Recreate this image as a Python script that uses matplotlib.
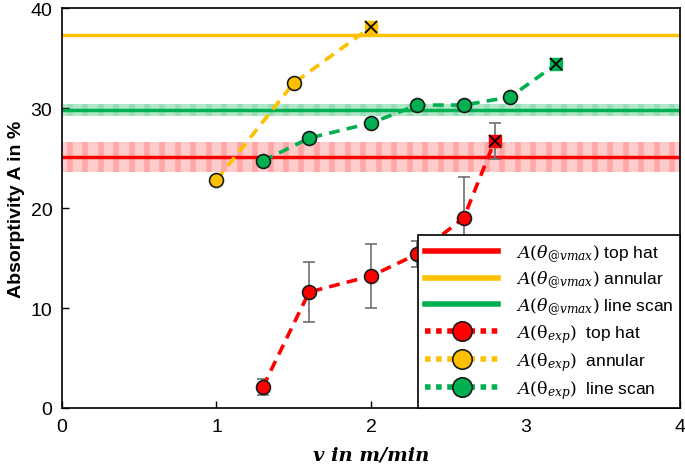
import numpy as np
import matplotlib.pyplot as plt
from matplotlib.lines import Line2D

plt.rcParams['font.family'] = ['Liberation Sans', 'DejaVu Sans']
plt.rcParams['mathtext.fontset'] = 'dejavuserif'

# experimental absorptivity, top hat
v_top = [1.3, 1.6, 2.0, 2.3, 2.6, 2.8]
a_top = [2.1, 11.6, 13.2, 15.4, 19.0, 26.7]
err_top = [0.8, 3.0, 3.2, 1.3, 4.1, 1.8]

# annular
v_ann = [1.0, 1.5, 2.0]
a_ann = [22.8, 32.5, 38.1]

# line scan
v_line = [1.3, 1.6, 2.0, 2.3, 2.6, 2.9, 3.2]
a_line = [24.7, 27.0, 28.5, 30.3, 30.3, 31.1, 34.4]

# A(theta @ vmax) levels and uncertainty
vmax_top, vmax_top_err = 25.1, 1.5
vmax_ann = 37.3
vmax_line, vmax_line_err = 29.8, 0.6

red = '#FF0000'
orange = '#FFC000'
green = '#00B050'

fig = plt.figure(figsize=(6.85, 4.77), dpi=100)
ax = fig.add_axes([0.0905, 0.1426, 0.9022, 0.8384])

xs = np.linspace(0, 4, 200)
stripes = np.arange(0.05, 4.0, 0.1)

# bands with stripes
ax.fill_between(xs, vmax_top - vmax_top_err, vmax_top + vmax_top_err,
                color=red, alpha=0.2, lw=0)
ax.vlines(stripes, vmax_top - vmax_top_err, vmax_top + vmax_top_err,
          color=red, alpha=0.18, lw=4)
ax.fill_between(xs, vmax_line - vmax_line_err, vmax_line + vmax_line_err,
                color=green, alpha=0.3, lw=0)
ax.vlines(stripes, vmax_line - vmax_line_err, vmax_line + vmax_line_err,
          color=green, alpha=0.15, lw=4)

ax.axhline(vmax_top, color=red, lw=2.5)
ax.axhline(vmax_ann, color=orange, lw=2.5)
ax.axhline(vmax_line, color=green, lw=2.5)

# error bars
ax.errorbar(v_top, a_top, yerr=err_top, fmt='none', ecolor='#707070',
            elinewidth=1.2, capsize=4, capthick=1.2, zorder=3)

def series(v, a, col):
    ax.plot(v, a, ls=(0, (3, 2)), color=col, lw=2.6, zorder=4)
    ax.plot(v[:-1], a[:-1], 'o', ms=10, mfc=col, mec='#1a1a1a', mew=1.2, zorder=5)
    ax.plot(v[-1:], a[-1:], 's', ms=9, mfc=col, mec=col, zorder=5)
    ax.plot(v[-1:], a[-1:], 'x', ms=9, mec='black', mew=1.3, zorder=6)

series(v_top, a_top, red)
series(v_ann, a_ann, orange)
series(v_line, a_line, green)

ax.set_xlim(0, 4)
ax.set_ylim(0, 40)
ax.set_xticks([0, 1, 2, 3, 4])
ax.set_yticks([0, 10, 20, 30, 40])
ax.tick_params(direction='in', labelsize=14, length=5, width=1, pad=7)
for s in ax.spines.values():
    s.set_linewidth(1.2)

ax.set_ylabel('Absorptivity A in %', fontsize=14, fontweight='bold')
ax.set_xlabel('v in m/min', fontsize=14, fontweight='bold', fontstyle='italic',
              family='DejaVu Serif', labelpad=8)

handles = [
    Line2D([], [], color=red, lw=4),
    Line2D([], [], color=orange, lw=4),
    Line2D([], [], color=green, lw=4),
    Line2D([], [], color=red, lw=4, ls=(0, (1, 1)), marker='o', ms=14,
           mfc=red, mec='#1a1a1a', mew=1.2),
    Line2D([], [], color=orange, lw=4, ls=(0, (1, 1)), marker='o', ms=14,
           mfc=orange, mec='#1a1a1a', mew=1.2),
    Line2D([], [], color=green, lw=4, ls=(0, (1, 1)), marker='o', ms=14,
           mfc=green, mec='#1a1a1a', mew=1.2),
]
labels = [
    r'$A(\theta_{@vmax})$ top hat',
    r'$A(\theta_{@vmax})$ annular',
    r'$A(\theta_{@vmax})$ line scan',
    r'$A(\mathrm{\theta}_{exp})$  top hat',
    r'$A(\mathrm{\theta}_{exp})$  annular',
    r'$A(\mathrm{\theta}_{exp})$  line scan',
]
leg = ax.legend(handles, labels, loc='lower right', fontsize=12.5, handlelength=4.2,
                borderaxespad=0, fancybox=False, edgecolor='black',
                framealpha=1, labelspacing=0.3, handletextpad=1.0)
leg.get_frame().set_linewidth(1.2)

fig.savefig('out.png', dpi=100)
